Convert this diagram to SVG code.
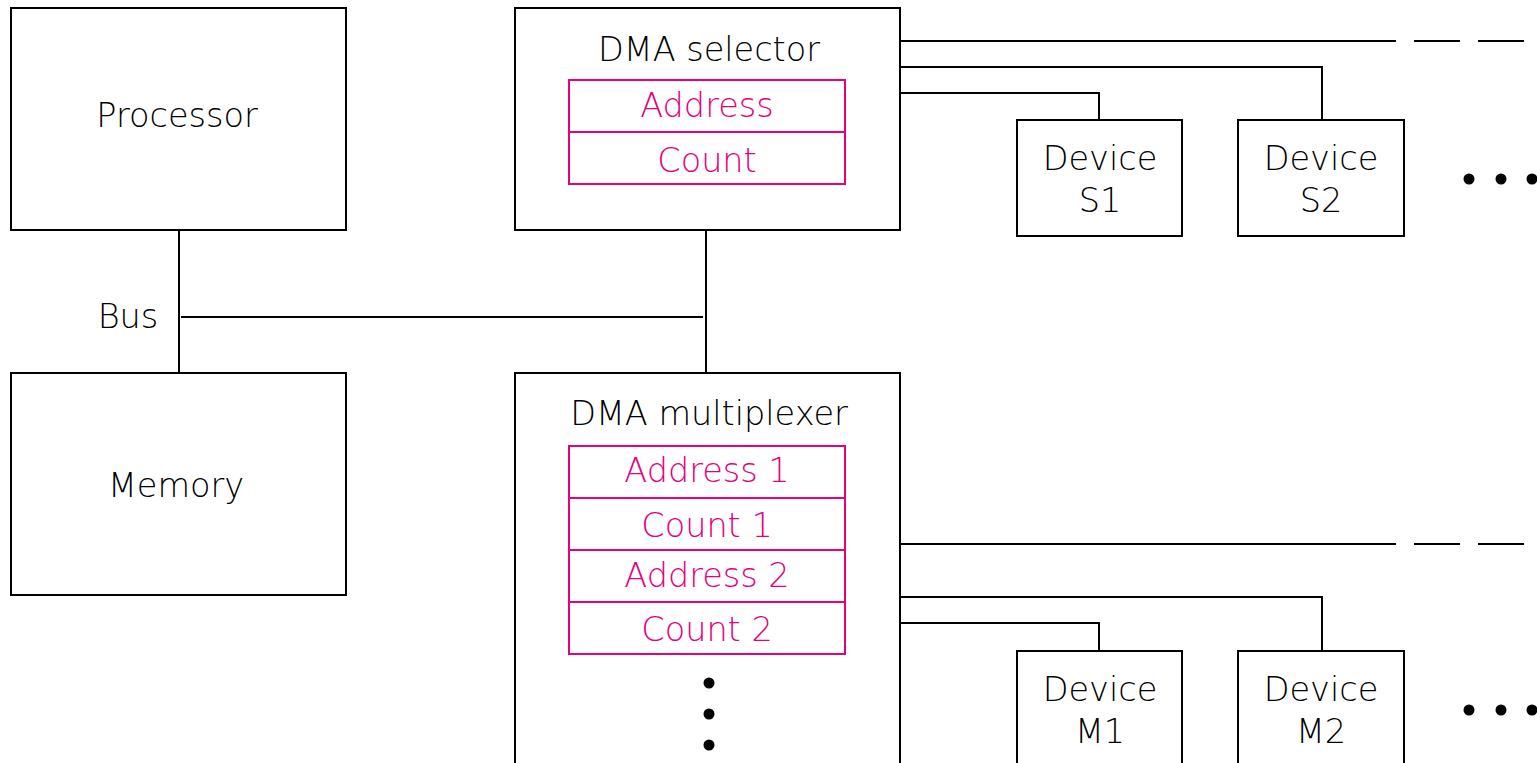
<svg xmlns="http://www.w3.org/2000/svg" width="1537" height="763" viewBox="0 0 1537 763">
  <style>
    .box { fill: #ffffff; stroke: #000000; stroke-width: 2; }
    .reg { fill: none; stroke: #e6007e; stroke-width: 2; }
    .wire { fill: none; stroke: #000000; stroke-width: 2; }
    .lbl { font-family: "DejaVu Sans", "Liberation Sans", sans-serif; font-weight: 200; font-size: 33.5px; fill: #000000; text-anchor: middle; }
    .rlbl { font-family: "DejaVu Sans", "Liberation Sans", sans-serif; font-weight: 200; font-size: 33.5px; fill: #e6007e; text-anchor: middle; }
    .dot { fill: #000000; }
  </style>
  <rect width="1537" height="763" fill="#ffffff"/>

  <!-- connectors -->
  <g id="connectors">
    <!-- system bus -->
    <path class="wire" d="M179 230 V373"/>
    <path class="wire" d="M181 317 H703"/>
    <path class="wire" d="M706 230 V373"/>
    <!-- selector device lines -->
    <path class="wire" d="M900 41 H1396 M1414 41 H1460 M1478 41 H1524"/>
    <path class="wire" d="M900 67 H1322 V120"/>
    <path class="wire" d="M900 93 H1099 V120"/>
    <!-- multiplexer device lines -->
    <path class="wire" d="M900 544 H1396 M1414 544 H1460 M1478 544 H1524"/>
    <path class="wire" d="M900 597 H1322 V651"/>
    <path class="wire" d="M900 623 H1099 V651"/>
  </g>

  <g id="processor">
    <rect class="box" x="11" y="8" width="335" height="222"/>
    <text class="lbl" x="177" y="127">Processor</text>
  </g>

  <g id="memory">
    <rect class="box" x="11" y="373" width="335" height="222"/>
    <text class="lbl" x="176" y="497">Memory</text>
  </g>

  <g id="bus-label">
    <text class="lbl" x="128" y="328">Bus</text>
  </g>

  <g id="dma-selector">
    <rect class="box" x="515" y="8" width="385" height="222"/>
    <text class="lbl" x="709" y="61">DMA selector</text>
    <rect class="reg" x="569" y="80" width="276" height="52"/>
    <rect class="reg" x="569" y="132" width="276" height="52"/>
    <text class="rlbl" x="707" y="117">Address</text>
    <text class="rlbl" x="707" y="172">Count</text>
  </g>

  <g id="dma-multiplexer">
    <rect class="box" x="515" y="373" width="385" height="400"/>
    <text class="lbl" x="709" y="425">DMA multiplexer</text>
    <rect class="reg" x="569" y="446" width="276" height="52"/>
    <rect class="reg" x="569" y="498" width="276" height="52"/>
    <rect class="reg" x="569" y="550" width="276" height="52"/>
    <rect class="reg" x="569" y="602" width="276" height="52"/>
    <text class="rlbl" x="707" y="482">Address 1</text>
    <text class="rlbl" x="707" y="537">Count 1</text>
    <text class="rlbl" x="707" y="587">Address 2</text>
    <text class="rlbl" x="707" y="641">Count 2</text>
    <circle class="dot" cx="709" cy="683" r="5.5"/>
    <circle class="dot" cx="709" cy="714" r="5.5"/>
    <circle class="dot" cx="709" cy="745" r="5.5"/>
  </g>

  <g id="device-s1">
    <rect class="box" x="1017" y="120" width="165" height="116"/>
    <text class="lbl" x="1100" y="170">Device</text>
    <text class="lbl" x="1100" y="212">S1</text>
  </g>

  <g id="device-s2">
    <rect class="box" x="1238" y="120" width="166" height="116"/>
    <text class="lbl" x="1321" y="170">Device</text>
    <text class="lbl" x="1321" y="212">S2</text>
  </g>

  <g id="selector-more">
    <circle class="dot" cx="1469" cy="179" r="5.5"/>
    <circle class="dot" cx="1501" cy="179" r="5.5"/>
    <circle class="dot" cx="1532" cy="179" r="5.5"/>
  </g>

  <g id="device-m1">
    <rect class="box" x="1017" y="651" width="165" height="122"/>
    <text class="lbl" x="1100" y="701">Device</text>
    <text class="lbl" x="1100" y="743">M1</text>
  </g>

  <g id="device-m2">
    <rect class="box" x="1238" y="651" width="166" height="122"/>
    <text class="lbl" x="1321" y="701">Device</text>
    <text class="lbl" x="1321" y="743">M2</text>
  </g>

  <g id="multiplexer-more">
    <circle class="dot" cx="1469" cy="710" r="5.5"/>
    <circle class="dot" cx="1501" cy="710" r="5.5"/>
    <circle class="dot" cx="1532" cy="710" r="5.5"/>
  </g>
</svg>
